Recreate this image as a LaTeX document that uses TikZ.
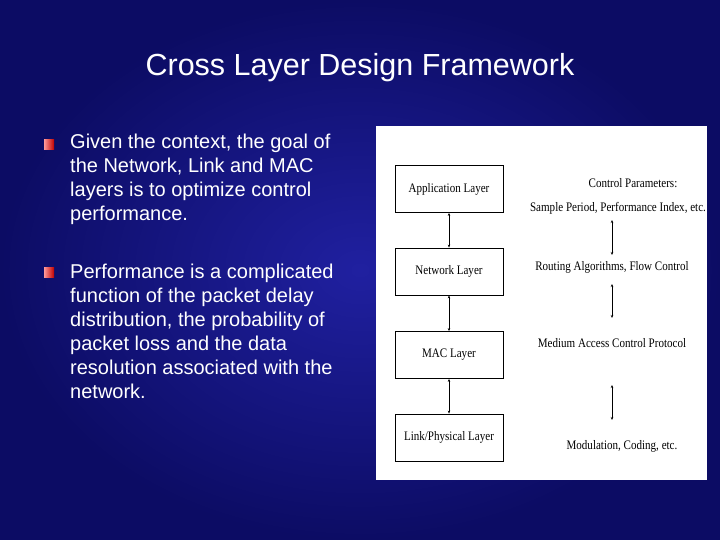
\documentclass[tikz,border=0pt]{standalone}
\usepackage{fontspec}
\setmainfont{Liberation Sans}
\newfontfamily\dserif{Liberation Serif}
\usetikzlibrary{arrows.meta}
\begin{document}
\begin{tikzpicture}[x=1pt,y=-1pt,
  layer/.style={draw=black,line width=0.8pt,fill=white,minimum width=108pt,minimum height=47pt,inner sep=0pt,font=\dserif\fontsize{13}{15}\selectfont},
  lbl/.style={font=\dserif\fontsize{13}{15}\selectfont,inner sep=0pt,text=black},
  conn/.style={draw=black,line width=0.5pt,{Stealth[length=3pt,width=2.5pt]}-{Stealth[length=3pt,width=2.5pt]}},
  btxt/.style={anchor=north west,text=white,font=\fontsize{20}{24}\selectfont,align=left,inner sep=0pt},
  bullet/.style={minimum size=10pt,inner sep=0pt,left color=red!40!white,right color=red!75!black,draw=none}]
\useasboundingbox (0,0) rectangle (720,540);
\shade[outer color={rgb,255:red,12;green,12;blue,100},inner color={rgb,255:red,32;green,32;blue,160}] (0,0) rectangle (720,540);
\node[text=white,font=\fontsize{30.5}{36}\selectfont] (title) at (360,68) {Cross Layer Design Framework};
\node[bullet] (b1) at (49,145) {};
\node[btxt] (t1) at (70,134) {Given the context, the goal of\\the Network, Link and MAC\\layers is to optimize control\\performance.};
\node[bullet] (b2) at (49,272) {};
\node[btxt] (t2) at (70,264) {Performance is a complicated\\function of the packet delay\\distribution, the probability of\\packet loss and the data\\resolution associated with the\\network.};
\fill[white] (376,126) rectangle (707,480);
\node[layer] (app) at (449,189) {\scalebox{0.85}[1]{Application Layer}};
\node[layer] (net) at (449,271.5) {\scalebox{0.85}[1]{Network Layer}};
\node[layer] (mac) at (449,355) {\scalebox{0.85}[1]{MAC Layer}};
\node[layer] (lnk) at (449,437.5) {\scalebox{0.85}[1]{Link/Physical Layer}};
\draw[conn] (app) -- (net);
\draw[conn] (net) -- (mac);
\draw[conn] (mac) -- (lnk);
\node[lbl] (cp) at (633,183) {\scalebox{0.85}[1]{Control Parameters:}};
\node[lbl] (sp) at (618,208) {\scalebox{0.85}[1]{Sample Period, Performance Index, etc.}};
\node[lbl] (ra) at (612,267) {\scalebox{0.85}[1]{Routing Algorithms, Flow Control}};
\node[lbl] (ma) at (612,343) {\scalebox{0.85}[1]{Medium Access Control Protocol}};
\node[lbl] (mo) at (622,446) {\scalebox{0.85}[1]{Modulation, Coding, etc.}};
\coordinate (a1) at (612,220); \coordinate (a2) at (612,255);
\coordinate (a3) at (612,284); \coordinate (a4) at (612,318);
\coordinate (a5) at (612,385); \coordinate (a6) at (612,420);
\draw[conn] (a1) -- (a2);
\draw[conn] (a3) -- (a4);
\draw[conn] (a5) -- (a6);
\end{tikzpicture}
\end{document}
